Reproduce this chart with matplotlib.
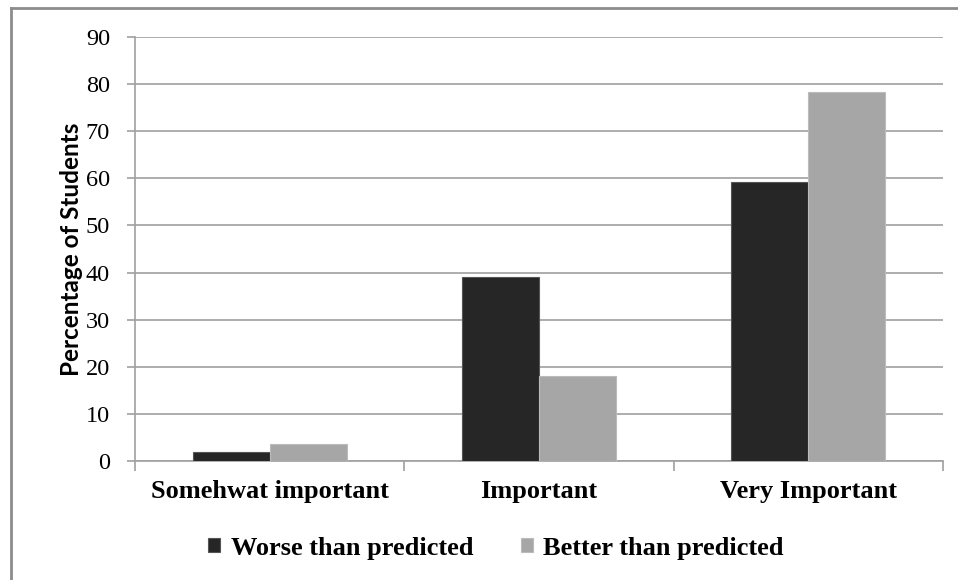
import matplotlib.pyplot as plt
import numpy as np
from matplotlib.lines import Line2D

categories = ['Somehwat important', 'Important', 'Very Important']
worse = [2.0, 39.0, 59.2]
better = [3.7, 18.0, 78.4]
series_names = ['Worse than predicted', 'Better than predicted']
yticks = list(range(0, 91, 10))


def main():
    fig = plt.figure(figsize=(9.58, 5.8), dpi=100)
    ax = fig.add_axes([135 / 958, 1 - 461 / 580, 808 / 958, 424 / 580])

    x = np.arange(len(categories))
    w = 0.286
    ax.bar(x - w / 2, worse, w, color='#262626', edgecolor='#555555', linewidth=0.8,
           label=series_names[0], zorder=3)
    ax.bar(x + w / 2, better, w, color='#a6a6a6', edgecolor='#bbbbbb', linewidth=0.8,
           label=series_names[1], zorder=3)

    ax.set_xlim(-0.5, 2.5)
    ax.set_ylim(0, 90)
    ax.set_yticks(yticks)
    ax.set_yticklabels([str(t) for t in yticks], family='Liberation Serif', fontsize=17.5)
    ax.yaxis.grid(True, color='#a0a0a0', linewidth=1.2, zorder=0)
    ax.tick_params(axis='y', length=6, color='#a0a0a0', width=1.2, pad=12)

    ax.set_xticks([-0.5, 0.5, 1.5, 2.5])
    ax.set_xticklabels([])
    ax.tick_params(axis='x', length=7, color='#a0a0a0', width=1.2, direction='out')
    for i, c in enumerate(categories):
        ax.text(i, -4.0, c, ha='center', va='top', family='Liberation Serif',
                fontweight='bold', fontsize=19)

    for s in ['top', 'right']:
        ax.spines[s].set_visible(False)
    ax.spines['left'].set_color('#a0a0a0')
    ax.spines['bottom'].set_color('#a0a0a0')
    ax.spines['left'].set_linewidth(1.2)
    ax.spines['bottom'].set_linewidth(1.2)

    ax.set_ylabel('Percentage of Students', family='Lato', fontweight='bold',
                  fontsize=17.5, labelpad=2)

    fig.legend(loc='center', bbox_to_anchor=(496 / 958, 1 - 548 / 580), ncol=2,
               frameon=False, prop={'family': 'Liberation Serif', 'weight': 'bold', 'size': 19},
               handlelength=0.45, handleheight=0.45, handletextpad=0.4, columnspacing=1.8)

    # outer chart frame (left and top edges visible)
    fig.add_artist(Line2D([11 / 958, 11 / 958], [0, 1 - 8 / 580], color='#8c8c8c', linewidth=2,
                          transform=fig.transFigure))
    fig.add_artist(Line2D([11 / 958, 1], [1 - 8 / 580, 1 - 8 / 580], color='#8c8c8c', linewidth=2,
                          transform=fig.transFigure))

    fig.savefig('out.png', dpi=100)


if __name__ == '__main__':
    main()
